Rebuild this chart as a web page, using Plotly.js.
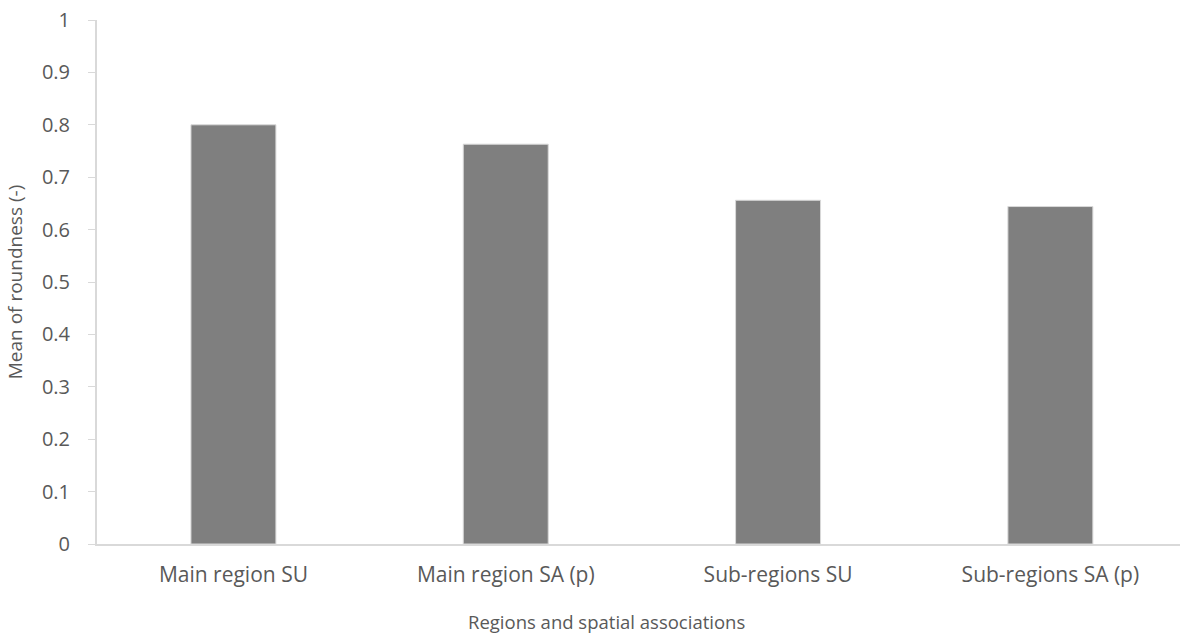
<!DOCTYPE html>
<html>
<head>
<meta charset="utf-8">
<script src="https://cdn.plot.ly/plotly-3.0.1.min.js"></script>
<style>html,body{margin:0;padding:0;background:#fff;}#chart{width:1180px;height:637px;}</style>
</head>
<body>
<div id="chart"></div>
<script>
const categories = ["Main region SU", "Main region SA (p)", "Sub-regions SU", "Sub-regions SA (p)"];
const meanRoundness = [0.800, 0.763, 0.656, 0.644];
const yTickValues = [0, 0.1, 0.2, 0.3, 0.4, 0.5, 0.6, 0.7, 0.8, 0.9, 1];
const yTickLabels = ["0", "0.1", "0.2", "0.3", "0.4", "0.5", "0.6", "0.7", "0.8", "0.9", "1"];
const xAxisTitle = "Regions and spatial associations";
const yAxisTitle = "Mean of roundness (-)";

const FONT = "Open Sans, Liberation Sans, sans-serif";
const data = [{
  type: "bar",
  x: [0, 1, 2, 3],
  y: meanRoundness,
  width: 0.312,
  marker: {color: "#7f7f7f", line: {color: "#d9d9d9", width: 1}},
  hoverinfo: "none"
}];
const layout = {
  width: 1180, height: 637,
  margin: {l: 97, r: 0, t: 20, b: 93},
  paper_bgcolor: "#fff", plot_bgcolor: "#fff",
  showlegend: false,
  font: {family: FONT, color: "#595959"},
  xaxis: {
    range: [-0.501, 3.476],
    tickvals: [0, 1, 2, 3],
    ticktext: categories,
    tickfont: {size: 21, color: "#595959"},
    ticks: "", ticklabelstandoff: 11, showgrid: false, zeroline: false,
    showline: true, linecolor: "#d9d9d9", linewidth: 2
  },
  yaxis: {
    range: [0, 1],
    tickvals: yTickValues,
    ticktext: yTickLabels,
    tickfont: {size: 20, color: "#595959"},
    ticks: "outside", ticklen: 7, tickcolor: "#d9d9d9", tickwidth: 1,
    ticklabelstandoff: 14,
    showgrid: false, zeroline: false,
    showline: true, linecolor: "#d9d9d9", linewidth: 2,
    title: {text: yAxisTitle, font: {size: 19, color: "#595959"}, standoff: 14}
  },
  annotations: [{
    text: xAxisTitle, xref: "paper", yref: "paper",
    x: 0.4705, y: -0.147, xanchor: "center", yanchor: "middle",
    showarrow: false, font: {size: 18.5, color: "#595959", family: FONT}
  }]
};
Plotly.newPlot("chart", data, layout, {staticPlot: true});
</script>
</body>
</html>
